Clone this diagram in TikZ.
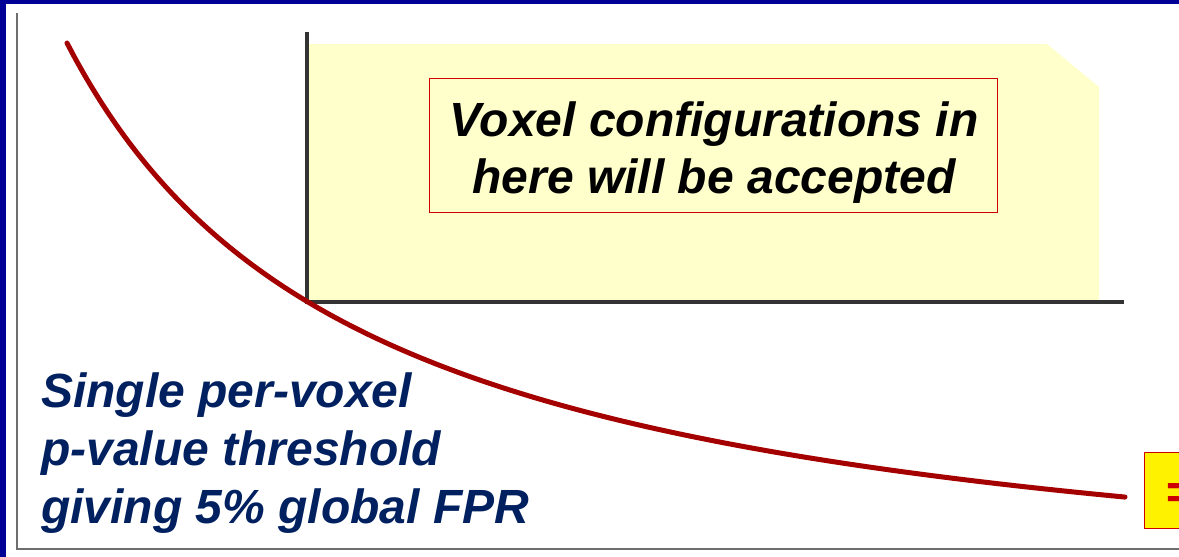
\documentclass[tikz,border=0pt]{standalone}
\usepackage{fontspec}
\setmainfont{Liberation Sans}
\definecolor{frameblue}{RGB}{0,0,150}
\definecolor{paleyellow}{RGB}{255,255,204}
\definecolor{curvered}{RGB}{165,0,0}
\definecolor{navytext}{RGB}{0,32,96}
\definecolor{boxred}{RGB}{204,0,0}
\definecolor{axisgrey}{RGB}{110,110,110}
\tikzset{
  bigtext/.style={font=\fontsize{48}{57}\selectfont\bfseries\itshape, inner sep=0pt},
  notebox/.style={draw=boxred, line width=1pt, fill=paleyellow, inner sep=0pt},
  axisline/.style={line width=3.4pt, draw=black!80},
  outerline/.style={line width=2.2pt, draw=axisgrey},
}
\begin{document}
\begin{tikzpicture}[x=1pt,y=-1pt]
\useasboundingbox (0,0) rectangle (1179,557);
\fill[white] (0,0) rectangle (1179,557);
% blue frame
\fill[frameblue] (0,0) rectangle (6,557);
\fill[frameblue] (0,0) rectangle (1179,4);
% outer axes
\coordinate (otop) at (17,13);
\coordinate (ocorner) at (17,549);
\coordinate (oright) at (1179,549);
\draw[outerline] (otop) -- (ocorner) -- (oright);
% accepted region
\fill[paleyellow] (309,44) -- (1047,44) -- (1099,87) -- (1099,301) -- (309,301) -- cycle;
% inner axes
\coordinate (itop) at (307,32);
\coordinate (icorner) at (307,302);
\coordinate (iright) at (1124,302);
\draw[axisline] (itop) -- (icorner) -- (iright);
% threshold curve (hyperbola through the measured points)
\draw[curvered, line width=5pt, line cap=round] plot[domain=67:1125, samples=120, smooth]
  (\x, {626.7 - 1763.25/((\x+235.1)/100)});
% note box
\node[notebox, minimum width=568pt, minimum height=134pt] (accbox) at (713,145) {};
\node[bigtext, align=center] (acctext) at (714,152.5) {Voxel configurations in\\here will be accepted};
% left label
\node[bigtext, text=navytext, align=left, anchor=north west,
      font=\fontsize{48}{58}\selectfont\bfseries\itshape] (thrtext) at (41,373)
  {Single per-voxel\\p-value threshold\\giving 5\% global FPR};
% bottom-right box (cut off at the edge, as in the reference)
\node[draw=boxred, line width=1pt, fill=yellow, minimum width=120pt, minimum height=76pt, anchor=north west] (eqbox) at (1144,452) {};
\node[bigtext, text=boxred, anchor=base west] (eqtext) at (1165,508) {=};
\end{tikzpicture}
\end{document}
